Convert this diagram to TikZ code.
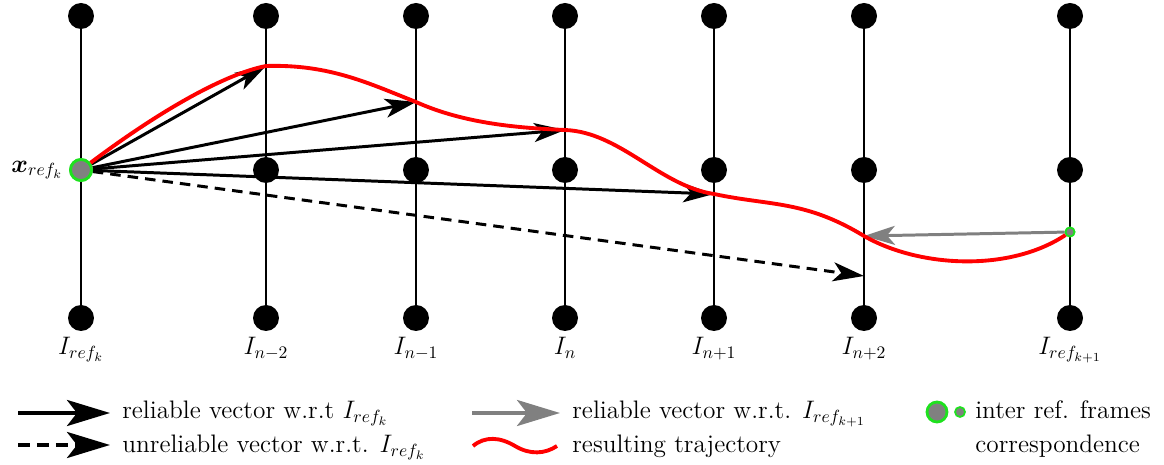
\documentclass[tikz,border=0pt]{standalone}
\usepackage{amsmath,bm}
\usetikzlibrary{arrows.meta,positioning}
\definecolor{refgreen}{RGB}{30,225,30}
\definecolor{vecgray}{RGB}{128,128,128}
\tikzset{
  frame/.style={circle,fill=black,inner sep=0pt,minimum size=0.52cm},
  refbig/.style={circle,fill=vecgray,draw=refgreen,line width=1.6pt,inner sep=0pt,minimum size=0.42cm},
  refsmall/.style={circle,fill=vecgray,draw=refgreen,line width=1pt,inner sep=0pt,minimum size=0.18cm},
  vec/.style={line width=1.7pt,-{Stealth[length=0.62cm,width=0.38cm,inset=0.16cm]}},
  legvec/.style={line width=2.3pt,-{Stealth[length=0.86cm,width=0.52cm,inset=0.2cm]}},
  traj/.style={red,line width=2.2pt},
  legtext/.style={anchor=base west,inner sep=0pt}
}
\begin{document}
\begin{tikzpicture}[x=0.02cm,y=-0.02cm,font=\Large]
  \useasboundingbox (0,0) rectangle (1164,465);
  % image lines
  \foreach \x/\n/\l in {81/a/{I_{ref_k}},266/b/{I_{n-2}},416/c/{I_{n-1}},565/d/{I_n},
                        714/e/{I_{n+1}},864/f/{I_{n+2}},1070/g/{I_{ref_{k+1}}}}{
    \node[frame] (\n-t) at (\x,16) {};
    \node[frame] (\n-b) at (\x,318) {};
    \draw[line width=1.1pt] (\n-t.center) -- (\n-b.center);
    \node[below=0pt of \n-b] (\n-l) {$\l$};
  }
  \foreach \n in {b,c,d,e,f,g}
    \node[frame] (\n-m) at (\n-t |- 0,170) {};
  \node[refbig] (xr) at (81,170) {};
  \node[left=0pt of xr] (xr-l) {$\bm{x}_{ref_k}$};
  % points on the trajectory
  \coordinate (p1) at (266,66);
  \coordinate (p2) at (416,102);
  \coordinate (p3) at (565,130);
  \coordinate (p4) at (714,194);
  \coordinate (p5) at (864,236);
  \coordinate (q) at (864,276);
  \node[refsmall] (xr2) at (1070,232) {};
  % vectors
  \draw[vec] (xr) -- (p1);
  \draw[vec] (xr) -- (p2);
  \draw[vec] (xr) -- (p3);
  \draw[vec] (xr) -- (p4);
  \draw[vec,dash pattern=on 6pt off 4pt] (xr) -- (q);
  \draw[vec,vecgray] (xr2) -- (p5);
  % trajectory
  \draw[traj] (xr) .. controls (150,118) and (220,75) .. (p1)
    .. controls (330,64) and (370,84) .. (p2)
    .. controls (465,124) and (520,128) .. (p3)
    .. controls (620,132) and (660,186) .. (p4)
    .. controls (770,206) and (805,200) .. (p5)
    .. controls (920,268) and (1010,272) .. (xr2);
  \node[refbig] at (xr) {};
  \node[refsmall] at (xr2) {};
  % legend
  \coordinate (l1a) at (18,413);  \coordinate (l1b) at (110,413);
  \coordinate (l2a) at (18,445);  \coordinate (l2b) at (110,445);
  \coordinate (l3a) at (472,413); \coordinate (l3b) at (560,413);
  \coordinate (l4a) at (473,446); \coordinate (l4b) at (557,446);
  \draw[legvec] (l1a) -- (l1b);
  \draw[legvec,dash pattern=on 6.8pt off 4pt] (l2a) -- (l2b);
  \draw[legvec,vecgray] (l3a) -- (l3b);
  \draw[traj] (l4a) .. controls (485,436) and (500,437) .. (515,446)
    .. controls (530,455) and (545,454) .. (l4b);
  \node[legtext] (t1) at (122,419) {reliable vector w.r.t $I_{ref_k}$};
  \node[legtext] (t2) at (122,453) {unreliable vector w.r.t. $I_{ref_k}$};
  \node[legtext] (t3) at (572,419) {reliable vector w.r.t. $I_{ref_{k+1}}$};
  \node[legtext] (t4) at (572,453) {resulting trajectory};
  \node[refbig,minimum size=0.4cm] (c1) at (937,412) {};
  \node[refsmall,minimum size=0.2cm] (c2) at (960,412) {};
  \node[legtext] (t5) at (975,419) {inter ref. frames};
  \node[legtext] (t6) at (975,453) {correspondence};
\end{tikzpicture}
\end{document}
